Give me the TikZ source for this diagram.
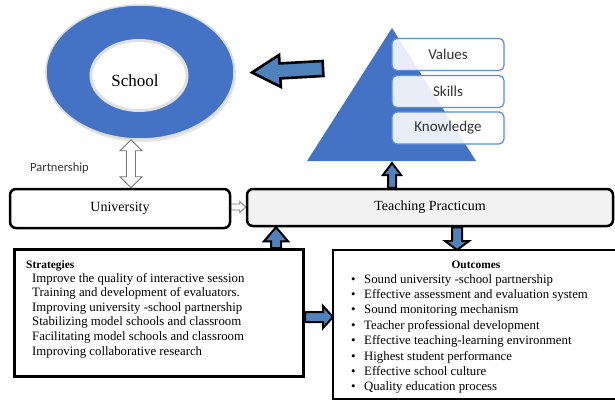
\documentclass[tikz,border=0pt]{standalone}
\usepackage{fontspec}
\setmainfont{Liberation Serif}
\newfontfamily\calfont{Carlito}
\usetikzlibrary{calc,shapes.geometric}
\definecolor{ringblue}{HTML}{4472C4}
\definecolor{arrowblue}{HTML}{4F81BD}
\definecolor{tpgray}{HTML}{F2F2F2}
\definecolor{edgegray}{HTML}{D9D9D9}
\definecolor{valedge}{HTML}{5B8BDA}
% block arrow: #1 style, #2 start, #3 tip, #4 half shaft, #5 half head, #6 head length
\newcommand{\blockarrow}[6]{%
  \coordinate (ba-c) at ($(#3)!#6!(#2)$);
  \draw[#1] ($(#2)!#4!90:(#3)$) -- ($(ba-c)!#4!90:(#3)$) -- ($(ba-c)!#5!90:(#3)$) -- (#3)
    -- ($(ba-c)!#5!-90:(#3)$) -- ($(ba-c)!#4!-90:(#3)$) -- ($(#2)!#4!-90:(#3)$) -- cycle;}
% double block arrow
\newcommand{\dblarrow}[6]{%
  \coordinate (da-c1) at ($(#2)!#6!(#3)$);
  \coordinate (da-c2) at ($(#3)!#6!(#2)$);
  \draw[#1] (#2) -- ($(da-c1)!#5!90:(#3)$) -- ($(da-c1)!#4!90:(#3)$) -- ($(da-c2)!#4!90:(#3)$)
    -- ($(da-c2)!#5!90:(#3)$) -- (#3) -- ($(da-c2)!#5!-90:(#3)$) -- ($(da-c2)!#4!-90:(#3)$)
    -- ($(da-c1)!#4!-90:(#3)$) -- ($(da-c1)!#5!-90:(#3)$) -- cycle;}
\tikzset{
  fatarrow/.style={fill=arrowblue, draw=black, line width=2pt, line join=miter},
  bigarrow/.style={fill=arrowblue, draw=black, line width=2.6pt, line join=miter},
  hollowarrow/.style={fill=white, draw=black!55, line width=0.8pt, line join=miter},
  valbox/.style={rounded corners=5pt, draw=valedge, line width=1.2pt, fill=white, fill opacity=0.88,
    text opacity=1, minimum width=112pt, minimum height=32pt, text=black!80,
    font=\calfont\fontsize{15}{18}\selectfont},
  mainbox/.style={rounded corners=6pt, draw=black, line width=2.5pt, fill=white,
    font=\fontsize{14}{17}\selectfont},
  listbox/.style={fill=white, anchor=north west},
  listtxt/.style={anchor=base west, inner sep=0pt, font=\fontsize{12.8}{15}\selectfont},
  headtxt/.style={inner sep=0pt, font=\bfseries\fontsize{11.4}{14}\selectfont},
}
\begin{document}
\begin{tikzpicture}[x=1pt, y=-1pt]
\useasboundingbox (0,0) rectangle (615,399);
% ring
\node[ellipse, fill=black!10, minimum width=189pt, minimum height=136pt] (ringshadow) at (141.5,74) {};
\node[ellipse, fill=ringblue, draw=edgegray, line width=1.5pt, minimum width=188pt, minimum height=134pt] (ring) at (140,72) {};
\node[ellipse, fill=white, draw=black!12, line width=3pt, minimum width=96pt, minimum height=70pt] (inner) at (139,75.5) {};
\node[font=\fontsize{17}{20}\selectfont] (schooltxt) at (135,81) {School};
% pyramid
\fill[ringblue] (392,28) -- (476,161) -- (307,161) -- cycle;
\coordinate (tribase) at (392,163);
\node[valbox] (values) at (448,54.5) {Values};
\node[valbox] (skills) at (448,91.5) {Skills};
\node[valbox] (knowledge) at (448,128) {Knowledge};
% big arrow toward school
\coordinate (bigS) at (323,68.5);
\coordinate (bigT) at (252,72.5);
\blockarrow{bigarrow}{bigS}{bigT}{7.5pt}{16pt}{28pt}
% partnership
\node[font=\calfont\fontsize{12.5}{15}\selectfont, text=black!80] (partner) at (59.5,168) {Partnership};
% university & practicum
\node[mainbox, minimum width=220pt, minimum height=39pt] (uni) at (120,208.5) {University};
\node[mainbox, fill=tpgray, minimum width=366pt, minimum height=37pt] (tp) at (430,207.5) {Teaching Practicum};
% strategies / outcomes boxes
\node[listbox, draw=black, line width=3pt, minimum width=289pt, minimum height=127pt] (strat) at (13,248) {};
\node[listbox, line width=2.5pt, minimum width=300pt, minimum height=147pt] (outc) at (333,250) {};
\draw[line width=2.5pt, line join=miter] (outc.north east) -- (outc.north west) -- (outc.south west) -- (outc.south east);
% connectors
\coordinate (dA) at (131,0 |- uni.north);
\coordinate (dB) at (131,0 |- ring.south);
\dblarrow{hollowarrow}{dA}{dB}{4.5pt}{11pt}{11pt}
\coordinate (hA) at (uni.east |- 0,207);
\coordinate (hB) at (tp.west |- 0,207);
\blockarrow{hollowarrow}{hA}{hB}{3pt}{5.5pt}{6pt}
\coordinate (sA) at (276,0 |- strat.north);
\coordinate (sB) at (276,0 |- tp.south);
\blockarrow{fatarrow}{sA}{sB}{5pt}{12pt}{14pt}
\coordinate (tA) at (392,0 |- tp.north);
\blockarrow{fatarrow}{tA}{tribase}{4pt}{9pt}{12pt}
\coordinate (oA) at (457,0 |- tp.south);
\coordinate (oB) at (457,0 |- outc.north);
\blockarrow{fatarrow}{oA}{oB}{5pt}{12pt}{9pt}
\coordinate (rA) at (strat.east |- 0,317);
\coordinate (rB) at (outc.west |- 0,317);
\blockarrow{fatarrow}{rA}{rB}{5pt}{11pt}{10pt}
% strategies text
\node[headtxt, anchor=base west] (sh) at (26,268) {Strategies};
\foreach \t [count=\i] in {Improve the quality of interactive session,
  Training and development of evaluators.,
  Improving university -school partnership,
  Stabilizing model schools and classroom,
  Facilitating model schools and classroom,
  Improving collaborative research}
  \node[listtxt] (s\i) at (32,{282+14.6*(\i-1)}) {\t};
% outcomes text
\node[headtxt, anchor=base] (oh) at (476,268) {Outcomes};
\foreach \t [count=\i] in {Sound university -school partnership,
  Effective assessment and evaluation system,
  Sound monitoring mechanism,
  Teacher professional development,
  Effective teaching-learning environment,
  Highest student performance,
  Effective school culture,
  Quality education process}
  \node[listtxt] (o\i) at (351,{283+15.4*(\i-1)}) {\makebox[13pt][l]{\textbullet}\t};
\end{tikzpicture}
\end{document}
